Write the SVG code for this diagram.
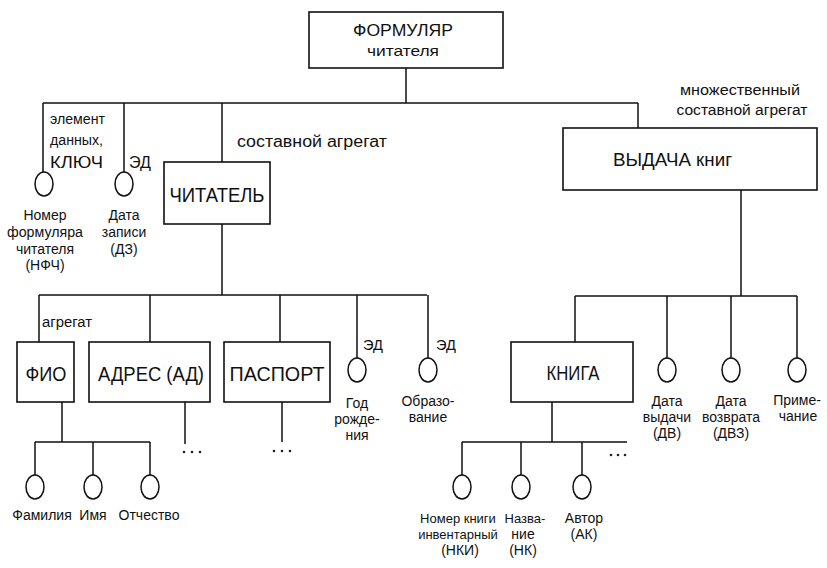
<svg xmlns="http://www.w3.org/2000/svg" width="827" height="568" viewBox="0 0 827 568">
<style>
text{font-family:"Liberation Sans",Arial,sans-serif;fill:#111}
.box{fill:#fff;stroke:#111;stroke-width:1.6}
.el{fill:#fff;stroke:#111;stroke-width:1.5}
.ln{fill:none;stroke:#111;stroke-width:1.5}
.big{font-size:20px;text-anchor:middle}
.s{font-size:14px;text-anchor:middle}
.l{font-size:14px}
.dot{fill:#222}
</style>
<rect width="827" height="568" fill="#fff"/>
<g id="connectors">
<path class="ln" d="M406 68V103M43 103H638M43 103V172M124 103V172M222 103V162M638 103V128"/>
<path class="ln" d="M222 224V295M39 295H427M39 295V342M150 295V342M280 295V342M357 295V358M428 295V358"/>
<path class="ln" d="M741 190V296M575 296H797M575 296V342M667 296V358M731 296V358M797 296V358"/>
<path class="ln" d="M62 402V442M35 442H150M35 442V475M93 442V475M150 442V475"/>
<path class="ln" d="M185 402V444M282 402V442"/>
<path class="ln" d="M552 402V442M462 442H627M462 442V475M521 442V475M582 442V475"/>
<g class="dot"><circle cx="184" cy="452" r="1.3"/><circle cx="192" cy="452" r="1.3"/><circle cx="200" cy="452" r="1.3"/>
<circle cx="274" cy="451" r="1.3"/><circle cx="282" cy="451" r="1.3"/><circle cx="290" cy="451" r="1.3"/>
<circle cx="611" cy="455" r="1.3"/><circle cx="618" cy="455" r="1.3"/><circle cx="625" cy="455" r="1.3"/></g>
<text class="l" x="50" y="124" textLength="55" lengthAdjust="spacingAndGlyphs">элемент</text>
<text class="l" x="50" y="145" textLength="53" lengthAdjust="spacingAndGlyphs">данных,</text>
<text x="50" y="168" font-size="17" textLength="53" lengthAdjust="spacingAndGlyphs">КЛЮЧ</text>
<text x="129" y="168" font-size="17" textLength="22" lengthAdjust="spacingAndGlyphs">ЭД</text>
<text x="237" y="147" font-size="16" textLength="150" lengthAdjust="spacingAndGlyphs">составной агрегат</text>
<text class="s" x="740" y="95" textLength="120" lengthAdjust="spacingAndGlyphs">множественный</text>
<text class="s" x="742" y="115" textLength="131" lengthAdjust="spacingAndGlyphs">составной агрегат</text>
<text class="l" x="42" y="327" textLength="50" lengthAdjust="spacingAndGlyphs">агрегат</text>
<text x="363" y="350" font-size="15" textLength="20" lengthAdjust="spacingAndGlyphs">ЭД</text>
<text x="436" y="350" font-size="15" textLength="20" lengthAdjust="spacingAndGlyphs">ЭД</text>
</g>
<g id="formular"><rect class="box" x="309" y="12" width="194" height="56"/>
<text x="403" y="36" font-size="17" text-anchor="middle" textLength="100" lengthAdjust="spacingAndGlyphs">ФОРМУЛЯР</text>
<text x="403" y="56" font-size="15" text-anchor="middle" textLength="72" lengthAdjust="spacingAndGlyphs">читателя</text></g>
<g id="nfch"><ellipse class="el" cx="44" cy="184" rx="9" ry="12"/>
<text class="s" x="45" y="220">Номер</text><text class="s" x="45" y="237" textLength="76" lengthAdjust="spacingAndGlyphs">формуляра</text><text class="s" x="45" y="254">читателя</text><text class="s" x="45" y="270">(НФЧ)</text></g>
<g id="dz"><ellipse class="el" cx="124" cy="184" rx="9" ry="12"/>
<text class="s" x="124" y="220">Дата</text><text class="s" x="124" y="237">записи</text><text class="s" x="124" y="254">(ДЗ)</text></g>
<g id="chitatel"><rect class="box" x="164" y="162" width="106" height="62"/>
<text class="big" x="217" y="202" textLength="95" lengthAdjust="spacingAndGlyphs">ЧИТАТЕЛЬ</text></g>
<g id="vydacha"><rect class="box" x="563" y="128" width="254" height="62"/>
<text x="613" y="166" font-size="18" textLength="119" lengthAdjust="spacingAndGlyphs">ВЫДАЧА книг</text></g>
<g id="fio"><rect class="box" x="17" y="342" width="57" height="60"/>
<text class="big" x="46" y="381" textLength="41" lengthAdjust="spacingAndGlyphs">ФИО</text></g>
<g id="adres"><rect class="box" x="89" y="342" width="121" height="60"/>
<text class="big" x="151" y="381" textLength="106" lengthAdjust="spacingAndGlyphs">АДРЕС (АД)</text></g>
<g id="pasport"><rect class="box" x="224" y="342" width="106" height="60"/>
<text class="big" x="277" y="381" textLength="95" lengthAdjust="spacingAndGlyphs">ПАСПОРТ</text></g>
<g id="god"><ellipse class="el" cx="357" cy="370" rx="9" ry="12"/>
<text class="s" x="357" y="408">Год</text><text class="s" x="357" y="424">рожде-</text><text class="s" x="357" y="440">ния</text></g>
<g id="obraz"><ellipse class="el" cx="428" cy="370" rx="9" ry="12"/>
<text class="s" x="428" y="406">Образо-</text><text class="s" x="428" y="422">вание</text></g>
<g id="kniga"><rect class="box" x="511" y="342" width="122" height="60"/>
<text class="big" x="573" y="380" textLength="53" lengthAdjust="spacingAndGlyphs">КНИГА</text></g>
<g id="dv"><ellipse class="el" cx="667" cy="370" rx="9" ry="12"/>
<text class="s" x="667" y="406">Дата</text><text class="s" x="667" y="422">выдачи</text><text class="s" x="667" y="438">(ДВ)</text></g>
<g id="dvz"><ellipse class="el" cx="731" cy="370" rx="9" ry="12"/>
<text class="s" x="731" y="406">Дата</text><text class="s" x="731" y="422">возврата</text><text class="s" x="731" y="438">(ДВЗ)</text></g>
<g id="prim"><ellipse class="el" cx="797" cy="370" rx="9" ry="12"/>
<text class="s" x="797" y="405">Приме-</text><text class="s" x="798" y="421">чание</text></g>
<g id="familia"><ellipse class="el" cx="35" cy="487" rx="9" ry="12"/><text class="s" x="42" y="520">Фамилия</text></g>
<g id="imya"><ellipse class="el" cx="93" cy="487" rx="9" ry="12"/><text class="s" x="93" y="520">Имя</text></g>
<g id="otchestvo"><ellipse class="el" cx="150" cy="487" rx="9" ry="12"/><text class="s" x="149" y="520">Отчество</text></g>
<g id="nki"><ellipse class="el" cx="462" cy="487" rx="9" ry="12"/>
<text x="458" y="523" font-size="13" text-anchor="middle">Номер книги</text><text x="458" y="539" font-size="13" text-anchor="middle">инвентарный</text><text class="s" x="460" y="555">(НКИ)</text></g>
<g id="nk"><ellipse class="el" cx="521" cy="487" rx="9" ry="12"/>
<text x="525" y="523" font-size="13" text-anchor="middle">Назва-</text><text class="s" x="523" y="539">ние</text><text class="s" x="523" y="555">(НК)</text></g>
<g id="ak"><ellipse class="el" cx="582" cy="487" rx="9" ry="12"/>
<text class="s" x="584" y="523">Автор</text><text class="s" x="584" y="539">(АК)</text></g>
</svg>
